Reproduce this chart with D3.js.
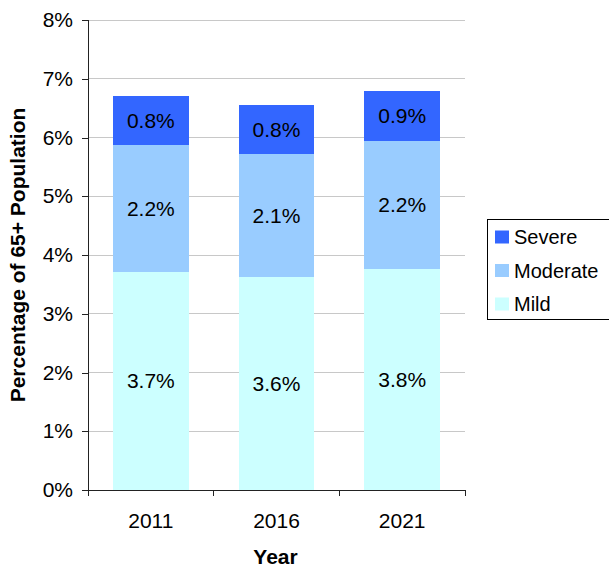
<!DOCTYPE html>
<html><head><meta charset="utf-8">
<script src="https://cdn.jsdelivr.net/npm/d3@7"></script>
<style>body{margin:0;background:#fff;} svg{display:block;font-family:"Liberation Sans",Arial,sans-serif;}</style>
</head><body>
<script>
const years = ["2011", "2016", "2021"];
const mild = [3.71, 3.63, 3.76];
const moderate = [2.16, 2.09, 2.18];
const severe = [0.84, 0.83, 0.86];
const seriesNames = ["Mild", "Moderate", "Severe"];
const seriesColors = ["#CCFFFF", "#99CCFF", "#3366FF"];
const yTicks = [0, 1, 2, 3, 4, 5, 6, 7, 8];

const W = 609, H = 568;
const m = {left: 88, right: 144, top: 20, bottom: 78};
const FS = 21;
const FF = "'Liberation Sans', Arial, sans-serif";
const svg = d3.select("body").append("svg").attr("width", W).attr("height", H);

const table = years.map((y, i) => ({year: y, Mild: mild[i], Moderate: moderate[i], Severe: severe[i]}));
const stacked = d3.stack().keys(seriesNames)(table);

const x = d3.scaleBand().domain(years).range([m.left, W - m.right]).paddingInner(0.4).paddingOuter(0.2);
const y = d3.scaleLinear().domain([0, 8]).range([H - m.bottom, m.top]);
const color = d3.scaleOrdinal().domain(seriesNames).range(seriesColors);
const fmt = d3.format(".1%");

// gridlines
svg.append("g").selectAll("line").data(yTicks.slice(1)).join("line")
  .attr("x1", m.left).attr("x2", W - m.right)
  .attr("y1", d => y(d)).attr("y2", d => y(d))
  .attr("stroke", "#c8c8c8").attr("stroke-width", 1).attr("shape-rendering", "crispEdges");

// bars
const g = svg.append("g");
stacked.forEach(layer => {
  g.append("g").selectAll("rect").data(layer).join("rect")
    .attr("x", d => x(d.data.year)).attr("width", x.bandwidth())
    .attr("y", d => y(d[1])).attr("height", d => y(d[0]) - y(d[1]))
    .attr("fill", color(layer.key)).attr("shape-rendering", "crispEdges");
  g.append("g").selectAll("text").data(layer).join("text")
    .attr("x", d => x(d.data.year) + x.bandwidth() / 2)
    .attr("y", d => (y(d[0]) + y(d[1])) / 2)
    .attr("dy", "0.35em").attr("text-anchor", "middle")
    .attr("font-size", FS).attr("font-family", FF).attr("fill", "#000")
    .text(d => fmt((d[1] - d[0]) / 100));
});

// y axis
const yAxis = svg.append("g").attr("transform", `translate(${m.left},0)`)
  .call(d3.axisLeft(y).tickValues(yTicks).tickSize(6).tickPadding(9).tickFormat(d => d + "%"));
yAxis.selectAll("text").attr("font-size", FS).attr("font-family", FF).attr("fill", "#000");
yAxis.selectAll("line,path").attr("stroke", "#222").attr("shape-rendering", "crispEdges");

// x axis with ticks at band boundaries
const xg = svg.append("g").attr("transform", `translate(0,${H - m.bottom})`);
xg.append("line").attr("x1", m.left).attr("x2", W - m.right).attr("y1", 0).attr("y2", 0)
  .attr("stroke", "#222").attr("shape-rendering", "crispEdges");
const bounds = d3.range(years.length + 1).map(i => m.left + i * (W - m.right - m.left) / years.length);
xg.selectAll("line.tk").data(bounds).join("line").attr("class", "tk")
  .attr("x1", d => d).attr("x2", d => d).attr("y1", 0).attr("y2", 6)
  .attr("stroke", "#222").attr("shape-rendering", "crispEdges");
xg.selectAll("text").data(years).join("text")
  .attr("x", d => x(d) + x.bandwidth() / 2).attr("y", 38)
  .attr("text-anchor", "middle").attr("font-size", FS).attr("font-family", FF).attr("fill", "#000").text(d => d);

// axis titles
svg.append("text").attr("x", (m.left + W - m.right) / 2 - 1).attr("y", 564)
  .attr("text-anchor", "middle").attr("font-size", FS).attr("font-family", FF).attr("font-weight", "bold").text("Year");
svg.append("text").attr("transform", `translate(25,${(m.top + H - m.bottom) / 2}) rotate(-90)`)
  .attr("text-anchor", "middle").attr("font-size", FS).attr("font-family", FF).attr("font-weight", "bold").text("Percentage of 65+ Population");

// legend
const lg = svg.append("g");
lg.append("rect").attr("x", 487.5).attr("y", 219.5).attr("width", 130).attr("height", 100)
  .attr("fill", "#fff").attr("stroke", "#000");
const legendOrder = ["Severe", "Moderate", "Mild"];
lg.selectAll("g.item").data(legendOrder).join("g").attr("class", "item")
  .attr("transform", (d, i) => `translate(495,${237 + i * 33.5})`)
  .each(function(d) {
    const s = d3.select(this);
    s.append("rect").attr("x", 0).attr("y", -6.5).attr("width", 14).attr("height", 13).attr("fill", color(d));
    s.append("text").attr("x", 19).attr("y", 0).attr("dy", "0.35em").attr("font-size", 20).attr("font-family", FF).text(d);
  });
</script>
</body></html>
